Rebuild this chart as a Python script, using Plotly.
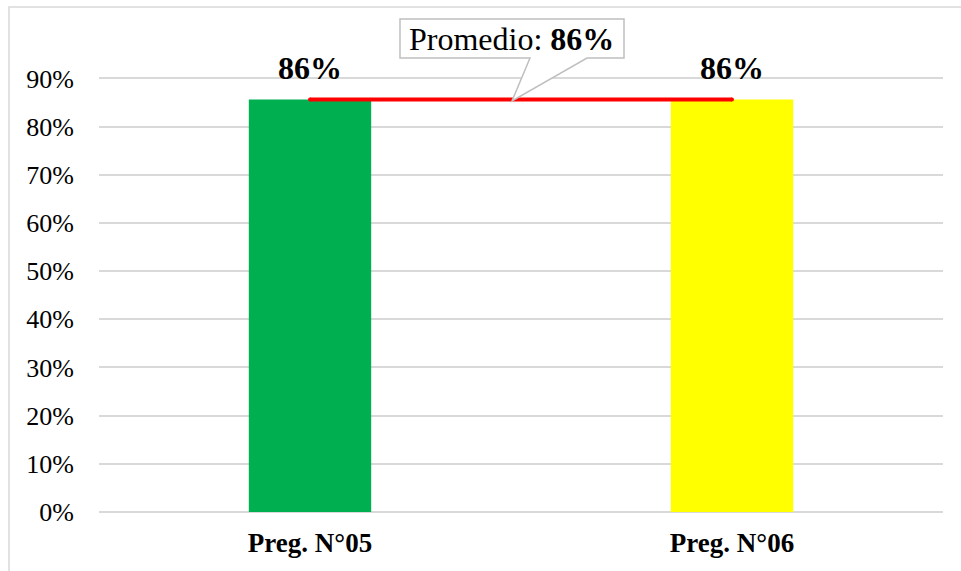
import plotly.graph_objects as go

preguntas = ["Preg. N°05", "Preg. N°06"]
valores = [0.856, 0.856]
colores = ["#00b050", "#ffff00"]
y_ticks = [0, 0.1, 0.2, 0.3, 0.4, 0.5, 0.6, 0.7, 0.8, 0.9]
y_ticktext = ["0%", "10%", "20%", "30%", "40%", "50%", "60%", "70%", "80%", "90%"]

promedio = sum(valores) / len(valores)
fuente = "Liberation Serif, Times New Roman, serif"

fig = go.Figure()
fig.add_trace(go.Bar(x=preguntas, y=valores, marker_color=colores, marker_line_width=0,
                     width=0.29, hoverinfo="skip"))
fig.add_trace(go.Scatter(x=preguntas, y=[promedio] * len(preguntas), mode="lines+markers",
                         line=dict(color="#ff0000", width=4),
                         marker=dict(color="#ff0000", size=4), hoverinfo="skip"))

# etiquetas de valor sobre las barras
for p, v in zip(preguntas, valores):
    fig.add_annotation(x=p, y=v, text="<b>%d%%</b>" % round(v * 100), showarrow=False,
                       yanchor="bottom", yshift=12,
                       font=dict(family=fuente, size=32, color="black"))

# recuadro del promedio con su flecha
def px(x):
    return (x - 99) / 844

def py(y):
    return (512 - y) / 502

path = "M %f,%f L %f,%f L %f,%f L %f,%f L %f,%f L %f,%f L %f,%f Z" % (
    px(400), py(19), px(624), py(19), px(624), py(58), px(587), py(58),
    px(512), py(101), px(530), py(58), px(400), py(58))
fig.add_shape(type="path", path=path, xref="paper", yref="paper",
              fillcolor="white", line=dict(color="#bfbfbf", width=1.5), layer="above")
fig.add_annotation(x=px(511), y=py(39), xref="paper", yref="paper",
                   xanchor="center", yanchor="middle",
                   text="Promedio: <b>%d%%</b>" % round(promedio * 100), showarrow=False,
                   font=dict(family=fuente, size=32, color="black"))

# borde del grafico
fig.add_shape(type="rect", xref="paper", yref="paper",
              x0=px(9), y0=py(600), x1=px(1000), y1=py(7),
              line=dict(color="#d9d9d9", width=1.5), fillcolor="rgba(0,0,0,0)", layer="below")

fig.update_layout(
    width=961, height=571,
    margin=dict(l=99, r=18, t=10, b=59),
    plot_bgcolor="white", paper_bgcolor="white",
    showlegend=False,
    font=dict(family=fuente, color="black"),
)
fig.update_xaxes(showgrid=False, showline=False, ticks="",
                 tickfont=dict(family=fuente, size=27, color="black", weight="bold"),
                 ticklabelstandoff=12)
fig.update_yaxes(range=[0, 1.042], tickvals=y_ticks, ticktext=y_ticktext,
                 showgrid=True, gridcolor="#d9d9d9", gridwidth=1.5,
                 zeroline=True, zerolinecolor="#d9d9d9", zerolinewidth=1.5,
                 showline=False, ticks="", ticklabelstandoff=24,
                 tickfont=dict(family=fuente, size=26, color="black"))

fig.write_html("out.html", config={"displayModeBar": False},
               post_script="document.body.style.margin='0';")
